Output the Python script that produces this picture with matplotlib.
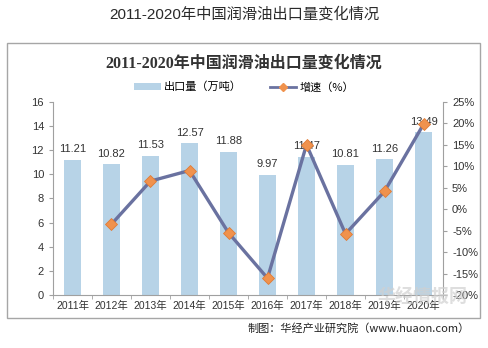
import matplotlib.pyplot as plt
from matplotlib.patches import Rectangle, Patch
from matplotlib.lines import Line2D

plt.rcParams['font.family'] = ['Liberation Sans', 'Noto Sans CJK SC', 'DejaVu Sans']

years = ["2011年", "2012年", "2013年", "2014年", "2015年",
         "2016年", "2017年", "2018年", "2019年", "2020年"]
export = [11.21, 10.82, 11.53, 12.57, 11.88, 9.97, 11.47, 10.81, 11.26, 13.49]
growth_years = years[1:]
growth = [-3.48, 6.56, 9.02, -5.49, -16.08, 15.04, -5.75, 4.16, 19.80]

bar_color = "#b7d3e7"
line_color = "#6a72a0"
marker_color = "#f0924d"

fig = plt.figure(figsize=(4.88, 3.48), dpi=100)

# outer title
fig.text(0.5, 0.958, "2011-2020年中国润滑油出口量变化情况", ha="center", va="center",
         fontsize=11, color="#2a2a2a", family=["Liberation Sans", "Noto Sans CJK SC"])

# frame around the chart
fig.patches.append(Rectangle((0.0143, 0.086), 0.9693, 0.79, transform=fig.transFigure,
                             fill=False, edgecolor="#a6a6a6", linewidth=1.0))

fig.text(0.5, 0.818, "2011-2020年中国润滑油出口量变化情况", ha="center", va="center",
         fontsize=11.5, fontweight="bold", color="#333333",
         family=["Liberation Serif", "Noto Sans CJK SC"])

ax = fig.add_axes([0.1086, 0.1523, 0.7992, 0.5546])
x = list(range(len(years)))
ax.bar(x, export, width=0.44, color=bar_color, zorder=2)
for xi, v in zip(x, export):
    ax.text(xi, v + 0.45, f"{v:.2f}", ha="center", va="bottom", fontsize=8, color="#333333", zorder=5)

ax.set_ylim(0, 16)
ax.set_yticks(range(0, 17, 2))
ax.set_xlim(-0.5, len(years) - 0.5)
ax.set_xticks(x)
ax.set_xticklabels(years)
ax.set_xticks([i + 0.5 for i in range(-1, len(years))], minor=True)
ax.tick_params(axis="x", which="major", length=0, labelsize=7.5, colors="#333333", pad=4)
ax.tick_params(axis="x", which="minor", length=3, color="#a0a0a0", direction="out")
ax.tick_params(axis="y", labelsize=8, colors="#333333", length=3, color="#a0a0a0")
for s in ["top", "right"]:
    ax.spines[s].set_visible(False)
for s in ["left", "bottom"]:
    ax.spines[s].set_color("#a0a0a0")

ax2 = ax.twinx()
gx = [years.index(y) for y in growth_years]
ax2.plot(gx, growth, color=line_color, linewidth=2.4, marker="D", markersize=6,
         markerfacecolor=marker_color, markeredgecolor="#e07b35", markeredgewidth=0.6, zorder=4)
ax2.set_ylim(-20, 25)
ax2.set_yticks(range(-20, 26, 5))
ax2.set_yticklabels([f"{v}%" for v in range(-20, 26, 5)])
ax2.tick_params(axis="y", labelsize=8, colors="#333333", length=3, color="#a0a0a0")
for s in ["top", "left", "bottom"]:
    ax2.spines[s].set_visible(False)
ax2.spines["right"].set_color("#a0a0a0")

handles = [Patch(facecolor=bar_color, edgecolor="none"),
           Line2D([0], [0], color=line_color, linewidth=2, marker="D", markersize=4,
                  markerfacecolor=marker_color, markeredgecolor=marker_color)]
fig.legend(handles, ["出口量（万吨）", "增速（%）"], loc="center", bbox_to_anchor=(0.5, 0.75),
           ncol=2, frameon=False, handlelength=2.4, handleheight=0.5, columnspacing=2.5,
           handletextpad=0.3, prop={"family": ["Noto Sans CJK SC"], "size": 8})

# watermark
fig.text(0.865, 0.145, "华经情报网", ha="center", va="center", fontsize=13, color="#d0d0d0",
         alpha=0.7, family=["Noto Sans CJK SC"], fontweight="bold", zorder=10)

fig.text(0.963, 0.057, "制图：华经产业研究院（www.huaon.com）", ha="right", va="center",
         fontsize=8, color="#222222", family=["Noto Sans CJK SC"])

fig.savefig("out.png", dpi=100)
